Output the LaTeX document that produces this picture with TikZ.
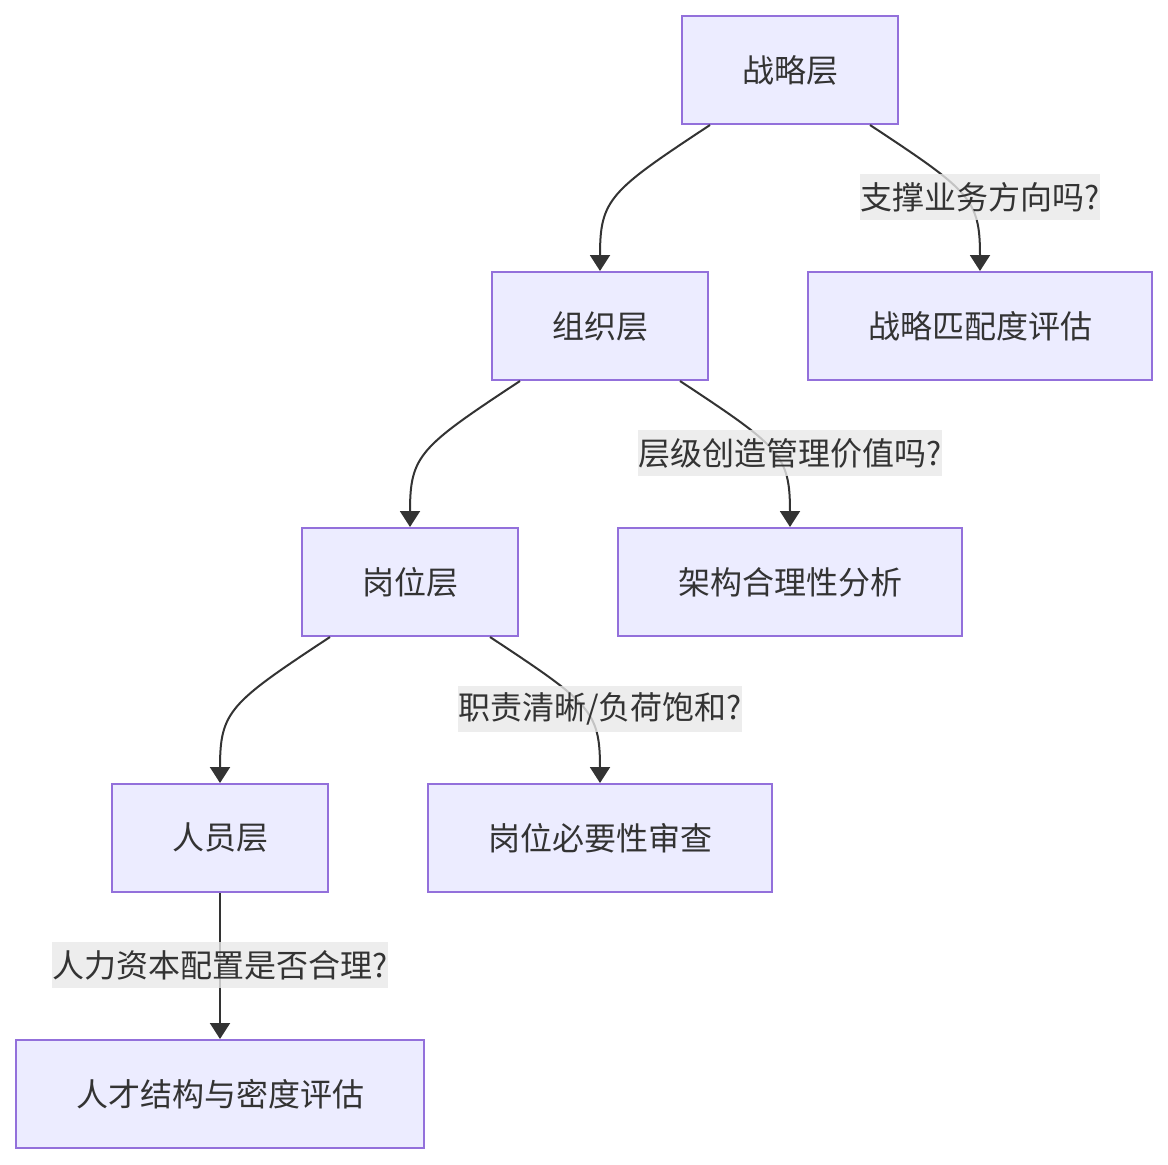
\documentclass[tikz,border=0pt]{standalone}
\usepackage{fontspec}
\setmainfont{Noto Sans CJK SC}
\usetikzlibrary{arrows.meta}
\definecolor{boxfill}{HTML}{ECECFF}
\definecolor{boxline}{HTML}{9370DB}
\definecolor{ink}{HTML}{333333}
\definecolor{lblgray}{HTML}{E8E8E8}
\tikzset{
  box/.style={draw=boxline, fill=boxfill, line width=1pt, text=ink,
    minimum height=54pt, inner xsep=30pt, font=\fontsize{16}{19}\selectfont},
  lbl/.style={fill=lblgray, fill opacity=0.8, text opacity=1, text=ink,
    inner xsep=0pt, inner ysep=0pt, minimum height=23pt,
    font=\fontsize{16}{19}\selectfont},
  edge/.style={draw=ink, line width=1pt, -{Triangle[width=10pt,length=8pt]}}
}
\begin{document}
\begin{tikzpicture}[x=0.5pt, y=-0.5pt]
            \useasboundingbox (0,0) rectangle (1168,1164);
            % nodes
            \node[box] (zl) at (790,70) {战略层};
            \node[box] (zz) at (600,326) {组织层};
            \node[box] (zp) at (980,326) {战略匹配度评估};
            \node[box] (gw) at (410,582) {岗位层};
            \node[box] (jg) at (790,582) {架构合理性分析};
            \node[box] (ry) at (220,838) {人员层};
            \node[box] (bx) at (600,838) {岗位必要性审查};
            \node[box] (rc) at (220,1094) {人才结构与密度评估};
            % edges
            \draw[edge] ([xshift=-40pt]zl.south) .. controls +(-50pt,-33pt) and +(0,36pt) .. (zz.north);
            \draw[edge] ([xshift=40pt]zl.south) .. controls +(50pt,-33pt) and +(0,36pt) .. (zp.north);
            \draw[edge] ([xshift=-40pt]zz.south) .. controls +(-50pt,-33pt) and +(0,36pt) .. (gw.north);
            \draw[edge] ([xshift=40pt]zz.south) .. controls +(50pt,-33pt) and +(0,36pt) .. (jg.north);
            \draw[edge] ([xshift=-40pt]gw.south) .. controls +(-50pt,-33pt) and +(0,36pt) .. (ry.north);
            \draw[edge] ([xshift=40pt]gw.south) .. controls +(50pt,-33pt) and +(0,36pt) .. (bx.north);
            \draw[edge] (ry.south) -- (rc.north);
            % edge labels
            \node[lbl] (l1) at ([yshift=37pt]zp.north) {支撑业务方向吗?};
            \node[lbl] (l2) at ([yshift=37pt]jg.north) {层级创造管理价值吗?};
            \node[lbl] (l3) at ([yshift=37pt]bx.north) {职责清晰/负荷饱和?};
            \node[lbl] (l4) at ([yshift=37pt]rc.north) {人力资本配置是否合理?};
\end{tikzpicture}
\end{document}
